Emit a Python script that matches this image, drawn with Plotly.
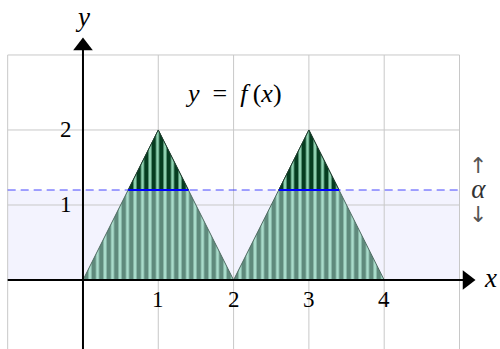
import numpy as np
import plotly.graph_objects as go

# piecewise-linear f(x): two tents on [0,2] and [2,4]
f_x = [0, 1, 2, 3, 4]
f_y = [0, 2, 0, 2, 0]
alpha = 1.2

x_ticks = [1, 2, 3, 4]
y_ticks = [1, 2]
grid_x = [-1, 0, 1, 2, 3, 4, 5]
grid_y = [-1, 0, 1, 2, 3]

X_RANGE = [-1.102, 5.538]
Y_RANGE = [-0.92, 3.733]

serif = "Liberation Serif"

fig = go.Figure()

# caps of the tents above alpha: crossing points computed from the vertices
cap_x, cap_y, seg_x, seg_y = [], [], [], []
for i in range(1, len(f_x) - 1):
    if f_y[i] > alpha and f_y[i - 1] < alpha and f_y[i + 1] < alpha:
        xl = np.interp(alpha, [f_y[i - 1], f_y[i]], [f_x[i - 1], f_x[i]])
        xr = np.interp(alpha, [f_y[i + 1], f_y[i]], [f_x[i + 1], f_x[i]])
        cap_x += [xl, f_x[i], xr, xl, None]
        cap_y += [alpha, f_y[i], alpha, alpha, None]
        seg_x += [xl, xr, None]
        seg_y += [alpha, alpha, None]

# dashed alpha level
fig.add_trace(go.Scatter(x=[grid_x[0], grid_x[-1]], y=[alpha, alpha], mode="lines",
                         line=dict(color="rgba(40,40,255,0.85)", width=1.2, dash="8px,5px"),
                         hoverinfo="skip"))

# striped area under f
fig.add_trace(go.Scatter(x=f_x, y=f_y, mode="lines", fill="toself",
                         fillcolor="#a9dccb",
                         fillpattern=dict(shape="|", size=7.5, solidity=0.6,
                                          fgcolor="#5f8a7c", bgcolor="#a9dccb",
                                          fillmode="replace"),
                         line=dict(color="#4f6b62", width=1), hoverinfo="skip"))

# darker stripes where f exceeds alpha
fig.add_trace(go.Scatter(x=cap_x, y=cap_y, mode="lines", fill="toself",
                         fillpattern=dict(shape="|", size=7.5, solidity=0.6,
                                          fgcolor="#063d20", bgcolor="#8fd2b1",
                                          fillmode="replace"),
                         line=dict(color="#1f3a2c", width=1), hoverinfo="skip"))

# solid alpha segments across the tents
fig.add_trace(go.Scatter(x=seg_x, y=seg_y, mode="lines",
                         line=dict(color="#0000ff", width=2), hoverinfo="skip"))

# axes arrow heads
fig.add_trace(go.Scatter(x=[5.1], y=[0], mode="markers",
                         marker=dict(symbol="triangle-right", size=17, color="black"),
                         hoverinfo="skip"))
fig.add_trace(go.Scatter(x=[0], y=[3.12], mode="markers",
                         marker=dict(symbol="triangle-up", size=17, color="black"),
                         hoverinfo="skip"))

shapes = [dict(type="rect", x0=grid_x[0], x1=grid_x[-1], y0=0, y1=alpha,
               fillcolor="#f3f3fe", line=dict(width=0), layer="below")]
for gx in grid_x:
    shapes.append(dict(type="line", x0=gx, x1=gx, y0=grid_y[0], y1=grid_y[-1],
                       line=dict(color="#c8c8c8", width=1), layer="below"))
for gy in grid_y:
    shapes.append(dict(type="line", x0=grid_x[0], x1=grid_x[-1], y0=gy, y1=gy,
                       line=dict(color="#c8c8c8", width=1), layer="below"))
# axis lines
shapes.append(dict(type="line", x0=grid_x[0], x1=5.05, y0=0, y1=0,
                   line=dict(color="black", width=2), layer="above"))
shapes.append(dict(type="line", x0=0, x1=0, y0=Y_RANGE[0], y1=3.07,
                   line=dict(color="black", width=2), layer="above"))

annotations = []
for t in x_ticks:
    annotations.append(dict(x=t, y=-0.26, text=str(t), showarrow=False,
                            font=dict(family=serif, size=23, color="black")))
for t in y_ticks:
    annotations.append(dict(x=-0.23, y=t, text=str(t), showarrow=False,
                            font=dict(family=serif, size=23, color="black")))

alpha_label = ("<span style='font-family:DejaVu Sans;font-size:22px;color:#555555'>↑</span><br>"
               "<span style='font-size:27px'><i>α</i></span><br>"
               "<span style='font-family:DejaVu Sans;font-size:22px;color:#555555'>↓</span>")

annotations += [
    dict(x=5.41, y=0.02, text="<i>x</i>", showarrow=False,
         font=dict(family=serif, size=27, color="black")),
    dict(x=0.0, y=3.5, text="<i>y</i>", showarrow=False,
         font=dict(family=serif, size=27, color="black")),
    dict(x=2.0, y=2.49, text="<i>y</i>\u2002=\u2002<i>f</i>\u2009(<i>x</i>)",
         showarrow=False, font=dict(family=serif, size=26, color="black")),
    dict(x=5.25, y=alpha, text=alpha_label, showarrow=False, yanchor="middle",
         font=dict(family=serif, size=19, color="#333333")),
]

fig.update_layout(
    width=500, height=349, margin=dict(l=0, r=0, t=0, b=0),
    paper_bgcolor="white", plot_bgcolor="white", showlegend=False,
    xaxis=dict(range=X_RANGE, visible=False, fixedrange=True),
    yaxis=dict(range=Y_RANGE, visible=False, fixedrange=True),
    shapes=shapes, annotations=annotations,
)

fig.write_html("out.html")
